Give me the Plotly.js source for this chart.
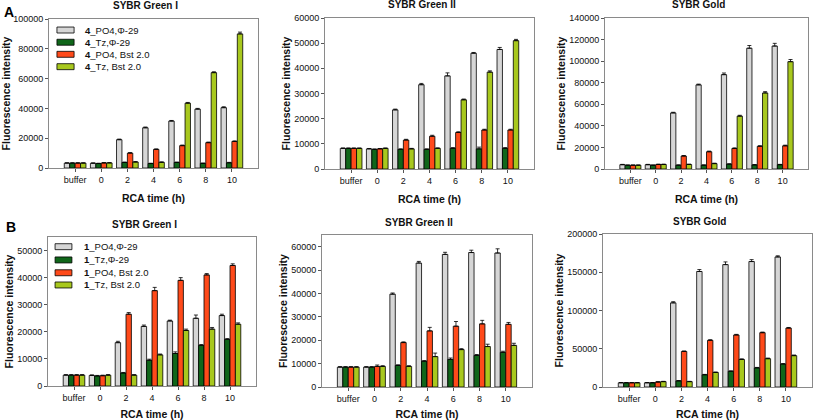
<!DOCTYPE html>
<html>
<head>
<meta charset="utf-8">
<script src="https://cdn.plot.ly/plotly-3.0.1.min.js"></script>
<style>html,body{margin:0;padding:0;background:#fff;}#chart{width:817px;height:420px;}</style>
</head>
<body>
<div id="chart"></div>
<script>
// ---------- DATA ----------
const categories = ['buffer', '0', '2', '4', '6', '8', '10'];
const panelTitles = ['SYBR Green I', 'SYBR Green II', 'SYBR Gold', 'SYBR Green I', 'SYBR Green II', 'SYBR Gold'];
const legendA = ['<b>4</b>_PO4,\u03A6-29', '<b>4</b>_Tz,\u03A6-29', '<b>4</b>_PO4, Bst 2.0', '<b>4</b>_Tz, Bst 2.0'];
const legendB = ['<b>1</b>_PO4,\u03A6-29', '<b>1</b>_Tz,\u03A6-29', '<b>1</b>_PO4, Bst 2.0', '<b>1</b>_Tz, Bst 2.0'];

// Panel A1 : SYBR Green I (compound 4)
const a1PO4Phi = [3300, 3200, 19000, 27000, 31500, 39500, 40500];
const a1TzPhi  = [3300, 3000, 3700, 3000, 3700, 3100, 3500];
const a1PO4Bst = [3300, 3400, 10000, 12500, 15000, 17000, 17800];
const a1TzBst  = [3300, 3400, 4000, 3800, 43500, 64000, 90000];
const a1PO4PhiErr = [200, 200, 400, 500, 400, 500, 600];
const a1TzPhiErr  = [200, 200, 300, 200, 300, 200, 300];
const a1PO4BstErr = [200, 200, 300, 300, 400, 400, 400];
const a1TzBstErr  = [200, 200, 300, 300, 500, 600, 1200];

// Panel A2 : SYBR Green II (compound 4)
const a2PO4Phi = [8200, 8000, 23500, 33500, 37000, 46000, 47500];
const a2TzPhi  = [8200, 7800, 7800, 7800, 8200, 8000, 8200];
const a2PO4Bst = [8200, 8000, 11500, 13000, 14500, 15500, 15500];
const a2TzBst  = [8200, 8200, 8000, 8200, 27500, 38500, 51000];
const a2PO4PhiErr = [150, 150, 300, 500, 1200, 300, 800];
const a2TzPhiErr  = [150, 150, 200, 200, 300, 700, 300];
const a2PO4BstErr = [150, 150, 300, 400, 300, 300, 300];
const a2TzBstErr  = [150, 150, 200, 200, 300, 500, 500];

// Panel A3 : SYBR Gold (compound 4)
const a3PO4Phi = [4000, 4000, 52000, 78000, 87500, 112000, 114000];
const a3TzPhi  = [3500, 3500, 3500, 3500, 4500, 3800, 4000];
const a3PO4Bst = [3500, 4200, 12000, 16000, 19000, 21000, 21500];
const a3TzBst  = [3500, 4200, 4200, 5000, 49000, 70500, 99500];
const a3PO4PhiErr = [300, 300, 600, 700, 1500, 2500, 2500];
const a3TzPhiErr  = [200, 200, 300, 300, 300, 300, 300];
const a3PO4BstErr = [200, 300, 500, 600, 600, 600, 600];
const a3TzBstErr  = [200, 300, 300, 400, 800, 1200, 2000];

// Panel B1 : SYBR Green I (compound 1)
const b1PO4Phi = [4000, 3900, 16000, 22000, 24000, 25000, 26000];
const b1TzPhi  = [4000, 3700, 4800, 9500, 12000, 15000, 17200];
const b1PO4Bst = [4000, 3800, 26500, 35200, 39000, 41000, 44500];
const b1TzBst  = [4000, 4000, 4000, 11500, 20500, 21000, 22800];
const b1PO4PhiErr = [200, 200, 500, 500, 300, 1200, 500];
const b1TzPhiErr  = [200, 200, 200, 400, 600, 300, 300];
const b1PO4BstErr = [200, 200, 600, 1200, 1000, 500, 600];
const b1TzBstErr  = [200, 200, 200, 300, 500, 600, 500];

// Panel B2 : SYBR Green II (compound 1)
const b2PO4Phi = [8500, 8500, 39700, 53000, 56700, 57500, 57300];
const b2TzPhi  = [8500, 8500, 9200, 11000, 11800, 13500, 14800];
const b2PO4Bst = [8500, 8800, 19000, 24000, 26000, 27000, 26800];
const b2TzBst  = [8500, 8800, 8800, 13000, 16000, 17300, 17800];
const b2PO4PhiErr = [200, 200, 500, 700, 900, 1000, 1800];
const b2TzPhiErr  = [200, 200, 300, 300, 600, 400, 500];
const b2PO4BstErr = [200, 600, 300, 1500, 2000, 1500, 800];
const b2TzBstErr  = [200, 300, 300, 1500, 400, 1000, 900];

// Panel B3 : SYBR Gold (compound 1)
const b3PO4Phi = [5500, 5500, 110000, 151000, 160000, 164000, 170000];
const b3TzPhi  = [5500, 5500, 8000, 16000, 20500, 25000, 30000];
const b3PO4Bst = [5500, 6500, 46500, 61000, 68000, 71000, 77000];
const b3TzBst  = [5500, 7000, 7000, 19000, 36000, 37000, 41000];
const b3PO4PhiErr = [300, 300, 1500, 2500, 3500, 2500, 1500];
const b3TzPhiErr  = [300, 300, 400, 500, 600, 600, 600];
const b3PO4BstErr = [300, 400, 600, 800, 800, 800, 800];
const b3TzBstErr  = [300, 400, 400, 600, 800, 800, 800];

const yRanges = [[0, 100000], [0, 60000], [0, 140000], [0, 55000], [0, 65000], [0, 200000]];
const yDticks = [20000, 10000, 20000, 10000, 10000, 50000];

// ---------- STYLE / LAYOUT ----------
const W = 817, H = 420;
const colors = ['#d6d6d6', '#10661a', '#ff4a1a', '#a8c81e'];
// pixel boxes [left, top, right, bottom]
const boxes = [
  [49, 19, 258, 168], [325, 18, 534, 169], [605, 18, 808, 169],
  [48, 237, 256, 386], [322, 235, 532, 387], [603, 234, 812, 387]
];
const panels = [
  [a1PO4Phi, a1TzPhi, a1PO4Bst, a1TzBst, a1PO4PhiErr, a1TzPhiErr, a1PO4BstErr, a1TzBstErr],
  [a2PO4Phi, a2TzPhi, a2PO4Bst, a2TzBst, a2PO4PhiErr, a2TzPhiErr, a2PO4BstErr, a2TzBstErr],
  [a3PO4Phi, a3TzPhi, a3PO4Bst, a3TzBst, a3PO4PhiErr, a3TzPhiErr, a3PO4BstErr, a3TzBstErr],
  [b1PO4Phi, b1TzPhi, b1PO4Bst, b1TzBst, b1PO4PhiErr, b1TzPhiErr, b1PO4BstErr, b1TzBstErr],
  [b2PO4Phi, b2TzPhi, b2PO4Bst, b2TzBst, b2PO4PhiErr, b2TzPhiErr, b2PO4BstErr, b2TzBstErr],
  [b3PO4Phi, b3TzPhi, b3PO4Bst, b3TzBst, b3PO4PhiErr, b3TzPhiErr, b3PO4BstErr, b3TzBstErr]
];

const FONT = 'Liberation Sans, Arial, sans-serif';
const traces = [];
const layout = {
  width: W, height: H,
  margin: {l: 0, r: 0, t: 0, b: 0},
  paper_bgcolor: '#ffffff', plot_bgcolor: '#ffffff',
  barmode: 'group', bargap: 0.17, bargroupgap: 0,
  showlegend: false,
  font: {family: FONT, size: 9, color: '#000'},
  annotations: [], shapes: []
};

panels.forEach((p, i) => {
  const n = i + 1;
  const xa = n === 1 ? 'x' : 'x' + n;
  const ya = n === 1 ? 'y' : 'y' + n;
  for (let s = 0; s < 4; s++) {
    traces.push({
      type: 'bar', x: categories, y: p[s], xaxis: xa, yaxis: ya,
      name: (i < 3 ? legendA : legendB)[s],
      marker: {color: colors[s], line: {color: '#000', width: 0.8}},
      error_y: {type: 'data', array: p[s + 4], arrayminus: p[s + 4].map(() => 0), symmetric: false,
                color: '#000', thickness: 0.8, width: 2, visible: true},
      hoverinfo: 'y'
    });
  }
  const b = boxes[i];
  layout['xaxis' + (n === 1 ? '' : n)] = {
    domain: [b[0] / W, b[2] / W], anchor: ya, type: 'category',
    range: [-1, 7], showgrid: false, zeroline: false,
    showline: true, mirror: true, linecolor: '#8a8a8a', linewidth: 1,
    ticks: 'outside', ticklen: 3, tickcolor: '#555', tickwidth: 1,
    tickfont: {family: FONT, size: 9, color: '#111'},
    title: {text: '<b>RCA time (h)</b>', font: {family: FONT, size: 10.5, color: '#111'}, standoff: 10},
    fixedrange: true
  };
  layout['yaxis' + (n === 1 ? '' : n)] = {
    domain: [1 - b[3] / H, 1 - b[1] / H], anchor: xa,
    range: yRanges[i], dtick: yDticks[i], tick0: 0, tickformat: 'd',
    showgrid: false, zeroline: false,
    showline: true, mirror: true, linecolor: '#8a8a8a', linewidth: 1,
    ticks: 'outside', ticklen: 3, tickcolor: '#555', tickwidth: 1,
    tickfont: {family: FONT, size: 9, color: '#111'},
    title: {text: '<b>Fluorescence intensity</b>', font: {family: FONT, size: 10.5, color: '#111'}, standoff: 1},
    fixedrange: true
  };
  layout.annotations.push({
    text: '<b>' + panelTitles[i] + '</b>', xref: xa + ' domain', yref: ya + ' domain',
    x: 0.5, y: 1, xanchor: 'center', yanchor: 'middle', yshift: 13, xshift: -8,
    showarrow: false, font: {family: FONT, size: 10, color: '#111'}
  });
});

// Panel letters
layout.annotations.push({text: '<b>A</b>', xref: 'paper', yref: 'paper', x: 2 / W, y: 1 - 12 / H,
  xanchor: 'left', yanchor: 'middle', showarrow: false, font: {family: FONT, size: 14, color: '#000'}});
layout.annotations.push({text: '<b>B</b>', xref: 'paper', yref: 'paper', x: 4 / W, y: 1 - 227 / H,
  xanchor: 'left', yanchor: 'middle', showarrow: false, font: {family: FONT, size: 14, color: '#000'}});

// Custom legends inside panels A1 and B1
const legendSpecs = [
  {xa: 'x', ya: 'y', names: legendA, x0: 0.038, x1: 0.12, tx: 0.163, rows: [0.926, 0.844, 0.763, 0.68]},
  {xa: 'x4', ya: 'y4', names: legendB, x0: 0.034, x1: 0.115, tx: 0.163, rows: [0.935, 0.846, 0.76, 0.678]}
];
legendSpecs.forEach(L => {
  L.names.forEach((nm, k) => {
    layout.shapes.push({type: 'rect', xref: L.xa + ' domain', yref: L.ya + ' domain',
      x0: L.x0, x1: L.x1, y0: L.rows[k] - 0.02, y1: L.rows[k] + 0.02,
      fillcolor: colors[k], line: {color: '#000', width: 0.8}});
    layout.annotations.push({text: nm, xref: L.xa + ' domain', yref: L.ya + ' domain',
      x: L.tx, y: L.rows[k], xanchor: 'left', yanchor: 'middle', showarrow: false,
      font: {family: FONT, size: 9.5, color: '#111'}});
  });
});

Plotly.newPlot('chart', traces, layout, {displayModeBar: false, staticPlot: true});
</script>
</body>
</html>
